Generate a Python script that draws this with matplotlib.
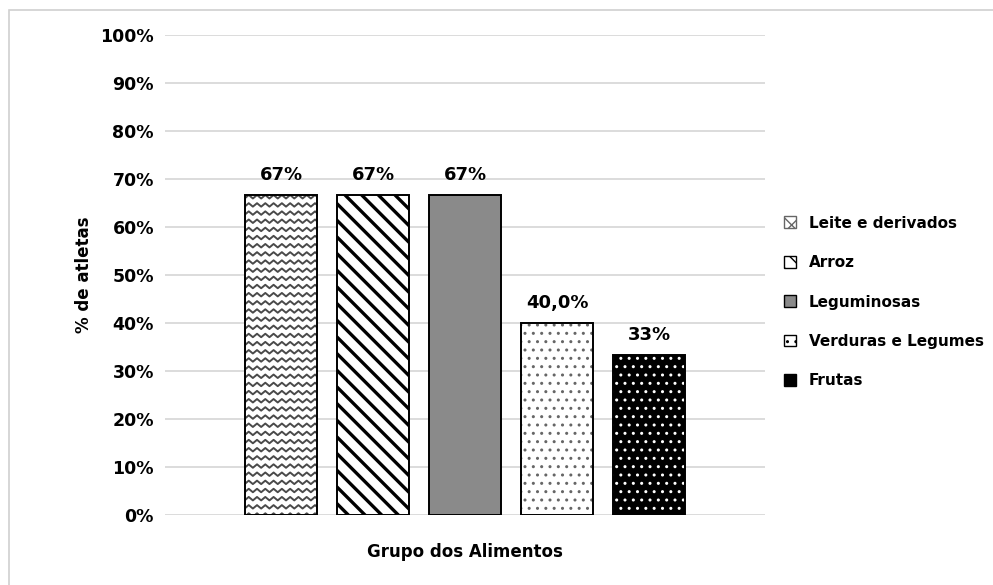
import numpy as np
import matplotlib
matplotlib.use("Agg")
import matplotlib.pyplot as plt
from matplotlib.patches import Rectangle, Patch
from matplotlib.collections import LineCollection
from matplotlib.ticker import PercentFormatter

# Data
categories = ["Leite e derivados", "Arroz", "Leguminosas",
              "Verduras e Legumes", "Frutas"]
values = [66.7, 66.7, 66.7, 40.0, 33.3]
value_labels = ["67%", "67%", "67%", "40,0%", "33%"]
y_ticks = [0, 10, 20, 30, 40, 50, 60, 70, 80, 90, 100]

plt.rcParams["font.family"] = ["DejaVu Sans"]
plt.rcParams["font.weight"] = "bold"

fig = plt.figure(figsize=(9.93, 5.85), dpi=100)
ax = fig.add_axes([165 / 993, 1 - 515 / 585, 600 / 993, 480 / 585])

# Thin frame around the chart area
fig.patches.append(Rectangle((9 / 993, -0.05), 1.1, 1 - 10 / 585 + 0.05,
                             transform=fig.transFigure, fill=False,
                             edgecolor="#d0d0d0", linewidth=1.2, zorder=0))

x = np.arange(len(categories))
faces = ["white", "white", "#8a8a8a", "white", "black"]
hatches = [None, "\\\\", None, "..", ".."]
# hatch colour follows the edge colour; outlines are drawn separately
hedges = ["black", "black", "black", "#666666", "white"]
hwidths = [1.0, 2.4, 0.5, 1.0, 1.0]

bars = ax.bar(x, values, width=0.79, color=faces, edgecolor=hedges,
              linewidth=0, zorder=3)
for b, h, hw in zip(bars, hatches, hwidths):
    if h:
        b.set_hatch(h)
    if hasattr(b, "set_hatch_linewidth"):
        b.set_hatch_linewidth(hw)

# Zigzag fill for the first bar, clipped to its rectangle
b0 = bars[0]
x0, w0, h0 = b0.get_x(), b0.get_width(), b0.get_height()
step_x = 0.045
step_y = 1.7
amp = 0.36
xs = np.arange(x0 - step_x, x0 + w0 + 2 * step_x, step_x)
segs = []
for yy in np.arange(-step_y, h0 + step_y, step_y):
    ys = yy + np.where(np.arange(len(xs)) % 2 == 0, amp, -amp)
    segs.append(np.column_stack([xs, ys]))
lc = LineCollection(segs, colors="#4a4a4a", linewidths=1.4, zorder=3.5)
ax.add_collection(lc)
lc.set_clip_path(b0)

# Black outlines on every bar
for b in bars:
    ax.add_patch(Rectangle((b.get_x(), 0), b.get_width(), b.get_height(),
                           fill=False, edgecolor="black", linewidth=1.4,
                           zorder=4))

ax.bar_label(bars, labels=value_labels, padding=8, fontsize=13,
             fontweight="bold")

ax.set_xlim(-1.26, 5.26)
ax.set_ylim(0, 100)
ax.set_yticks(y_ticks)
ax.yaxis.set_major_formatter(PercentFormatter(decimals=0))
ax.set_xticks([])
ax.tick_params(axis="y", length=0, pad=8, labelsize=12.5)
for lab in ax.get_yticklabels():
    lab.set_fontweight("bold")
ax.grid(axis="y", color="#d9d9d9", linewidth=1.3, zorder=0)
ax.set_axisbelow(True)
for s in ax.spines.values():
    s.set_visible(False)

ax.set_ylabel("% de atletas", fontsize=12, fontweight="bold")
ax.yaxis.set_label_coords(-0.12, 0.5)
ax.set_xlabel("Grupo dos Alimentos", fontsize=12, fontweight="bold",
              labelpad=20)

# Legend with small square keys
handles = [
    Patch(facecolor="white", edgecolor="#666666", hatch="xx", label=categories[0]),
    Patch(facecolor="white", edgecolor="black", hatch="\\\\", label=categories[1]),
    Patch(facecolor="#8a8a8a", edgecolor="black", label=categories[2]),
    Patch(facecolor="white", edgecolor="black", hatch="..", label=categories[3]),
    Patch(facecolor="black", edgecolor="black", label=categories[4]),
]
leg = fig.legend(handles=handles, loc="center left",
                 bbox_to_anchor=(778 / 993, 1 - 302 / 585),
                 frameon=False, fontsize=11, handlelength=0.8,
                 handleheight=0.8, handletextpad=0.8, labelspacing=1.6,
                 borderaxespad=0)
for t in leg.get_texts():
    t.set_fontweight("bold")

fig.savefig("out.png", dpi=100, facecolor="white")
